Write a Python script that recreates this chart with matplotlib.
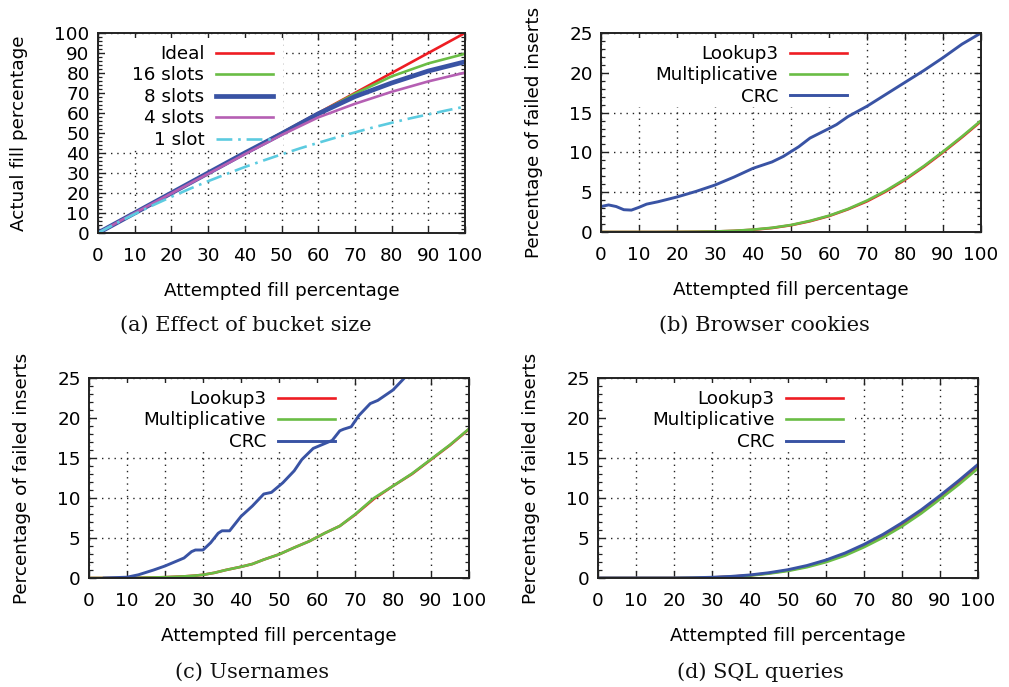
import matplotlib
matplotlib.use("Agg")
import matplotlib.pyplot as plt
from matplotlib.patches import Rectangle

plt.rcParams["font.family"] = ["DejaVu Sans"]

RED = "#ee1d23"
GREEN = "#6abd45"
BLUE = "#3953a4"
MAGENTA = "#b55fb3"
CYAN = "#5ccbe0"

# (a) Effect of bucket size
a_x = [0, 10, 20, 30, 40, 50, 60, 70, 80, 90, 100]
a_ideal = [0, 10, 20, 30, 40, 50, 60, 70, 80, 90, 100]
a_16 = [0, 10, 20, 30, 40, 50, 59.8, 69.6, 78.3, 84.8, 89.6]
a_8 = [0, 10, 20, 30, 40, 49.6, 59.6, 68.2, 75.0, 81.0, 85.6]
a_4 = [0, 10, 19.8, 29.6, 39.4, 49.0, 57.8, 64.6, 70.6, 75.8, 80.2]
a_1x = [0, 5, 10, 15, 20, 25, 30, 35, 40, 45, 50, 55, 60, 65, 70, 75, 80, 85, 90, 95, 100]
a_1 = [0, 4.9, 9.5, 13.9, 18.1, 22.1, 25.9, 29.5, 33.0, 36.2, 39.3, 42.3, 45.1, 47.8,
       50.3, 52.8, 55.1, 57.3, 59.3, 61.3, 63.2]

# (b) Browser cookies
b_x = [0, 5, 10, 15, 20, 25, 30, 35, 40, 45, 50, 55, 60, 65, 70, 75, 80, 85, 90, 95, 100]
b_lookup3 = [0, 0, 0, 0, 0.01, 0.03, 0.06, 0.14, 0.28, 0.5, 0.85, 1.35, 2.0, 2.85, 3.85,
             5.1, 6.55, 8.2, 10.0, 11.9, 13.9]
b_mult = [0, 0, 0, 0, 0.01, 0.03, 0.07, 0.15, 0.3, 0.53, 0.88, 1.4, 2.05, 2.9, 3.95,
          5.2, 6.65, 8.3, 10.1, 12.0, 14.0]
b_crc_x = [0, 2, 4, 6, 8, 10, 12, 15, 20, 25, 30, 35, 40, 45, 48, 50, 52, 55, 60, 62, 65,
           70, 75, 80, 85, 90, 95, 100]
b_crc = [3.2, 3.4, 3.2, 2.8, 2.75, 3.1, 3.5, 3.8, 4.4, 5.1, 5.9, 6.9, 8.0, 8.8, 9.5, 10.1,
         10.7, 11.8, 13.0, 13.5, 14.5, 15.8, 17.3, 18.8, 20.3, 21.9, 23.6, 25.0]

# (c) Usernames
c_x = [0, 5, 10, 15, 20, 25, 28, 30, 33, 36, 40, 43, 46, 50, 54, 58, 62, 66, 70, 75, 80,
       85, 90, 95, 100]
c_lookup3 = [0, 0, 0, 0.05, 0.1, 0.2, 0.3, 0.4, 0.65, 1.0, 1.4, 1.75, 2.3, 2.95, 3.8, 4.6,
             5.6, 6.5, 7.9, 9.9, 11.5, 13.0, 14.8, 16.6, 18.6]
c_mult = [0, 0, 0, 0.05, 0.1, 0.2, 0.3, 0.4, 0.65, 1.0, 1.4, 1.75, 2.3, 2.95, 3.8, 4.6,
          5.6, 6.5, 7.95, 10.0, 11.5, 13.05, 14.85, 16.65, 18.65]
c_crc_x = [4, 10, 13, 17, 20, 23, 25, 27, 28, 30, 32, 34, 35, 37, 40, 43, 46, 48, 51, 54,
           56, 59, 62, 64, 66, 67, 69, 71, 74, 76, 80, 83]
c_crc = [0, 0.1, 0.4, 1.0, 1.5, 2.1, 2.5, 3.3, 3.5, 3.5, 4.4, 5.6, 5.9, 5.9, 7.7, 9.0, 10.5,
         10.7, 11.9, 13.4, 14.8, 16.2, 16.8, 17.2, 18.4, 18.6, 18.9, 20.3, 21.8, 22.2, 23.5,
         25.0]

# (d) SQL queries
d_x = [0, 10, 20, 25, 30, 35, 40, 45, 50, 55, 60, 65, 70, 75, 80, 85, 90, 95, 100]
d_lookup3 = [0, 0, 0, 0.02, 0.07, 0.17, 0.33, 0.6, 0.95, 1.45, 2.1, 2.95, 4.0, 5.2, 6.6,
             8.2, 10.0, 11.9, 13.9]
d_mult = [0, 0, 0, 0.02, 0.06, 0.15, 0.3, 0.55, 0.88, 1.35, 1.98, 2.8, 3.85, 5.05, 6.45,
          8.05, 9.85, 11.7, 13.7]
d_crc = [0, 0, 0, 0.03, 0.09, 0.2, 0.38, 0.66, 1.04, 1.56, 2.25, 3.12, 4.2, 5.45, 6.9,
         8.5, 10.3, 12.2, 14.2]

captions = ["(a) Effect of bucket size", "(b) Browser cookies", "(c) Usernames",
            "(d) SQL queries"]

W, H = 1009, 687
FS = 13.2


def px_axes(left, top, right, bottom):
    return fig.add_axes([left / W, 1 - bottom / H, (right - left) / W, (bottom - top) / H])


def style(ax, ymax, ystep, yminor, ylabel):
    ax.set_xlim(0, 100)
    ax.set_ylim(0, ymax)
    ax.set_xticks(range(0, 101, 10))
    ax.set_yticks(range(0, ymax + 1, ystep))
    ax.set_yticks([v for v in range(0, ymax + 1, yminor) if v % ystep], minor=True)
    ax.set_axisbelow(True)
    ax.grid(True, which="major", linestyle=(0, (1, 3.5)), color="#222222", linewidth=1.0)
    ax.tick_params(which="both", direction="in", top=True, right=True, labelsize=FS,
                   color="#222222")
    ax.tick_params(which="major", length=5, width=1.0)
    ax.tick_params(which="minor", length=3, width=0.9)
    ax.tick_params(axis="x", pad=10)
    ax.tick_params(axis="y", pad=6)
    for sp in ax.spines.values():
        sp.set_linewidth(1.4)
        sp.set_color("#222222")
    ax.set_xlabel("Attempted fill percentage", fontsize=FS, labelpad=12)
    ax.set_ylabel(ylabel, fontsize=FS, labelpad=19)


def key(ax, anchor_x, anchor_y, box_right):
    # gnuplot-style key: right-aligned labels, opaque box reaching the left axis
    leg = ax.legend(loc="upper right", bbox_to_anchor=(anchor_x, anchor_y),
                    frameon=False, markerfirst=False, fontsize=FS, handlelength=3.1,
                    handletextpad=0.65, labelspacing=0.19, borderpad=0, borderaxespad=0)
    leg.set_zorder(3)
    fig.canvas.draw()
    bb = leg.get_window_extent().transformed(ax.transAxes.inverted())
    ax.add_patch(Rectangle((0.02, bb.y0 - 0.005), box_right - 0.02, 0.975 - bb.y0 + 0.005,
                           transform=ax.transAxes, facecolor="white", edgecolor="none",
                           zorder=1.2))


fig = plt.figure(figsize=(W / 100, H / 100), dpi=100)

lw = 1.9

ax = px_axes(98, 33, 465, 233)
style(ax, 100, 10, 2, "Actual fill percentage")
ax.plot(a_x, a_ideal, color=RED, lw=lw, label="Ideal")
ax.plot(a_x, a_16, color=GREEN, lw=lw, label="16 slots")
ax.plot(a_x, a_8, color=BLUE, lw=3.4, label="8 slots")
ax.plot(a_x, a_4, color=MAGENTA, lw=lw, label="4 slots")
ax.plot(a_1x, a_1, color=CYAN, lw=lw, linestyle=(0, (6, 2.2, 1, 2.2)), label="1 slot")
key(ax, 0.477, 0.94, 0.505)

panels = [
    ((601, 33, 981, 232), b_x, b_lookup3, b_x, b_mult, b_crc_x, b_crc, 0.647, 0.94, 0.685),
    ((89, 378, 469, 578), c_x, c_lookup3, c_x, c_mult, c_crc_x, c_crc, 0.647, 0.94, 0.66),
    ((598, 378, 978, 578), d_x, d_lookup3, d_x, d_mult, d_x, d_crc, 0.645, 0.94, 0.675),
]
for box, lx, ly, mx, my, cx, cy, kx, ky, kr in panels:
    ax = px_axes(*box)
    style(ax, 25, 5, 1, "Percentage of failed inserts")
    ax.plot(lx, ly, color=RED, lw=lw, label="Lookup3")
    ax.plot(mx, my, color=GREEN, lw=lw, label="Multiplicative")
    ax.plot(cx, cy, color=BLUE, lw=2.1, label="CRC")
    key(ax, kx, ky, kr)

cap_pos = [(246, 325), (764, 325), (252, 672), (760, 672)]
for text, (cx, cy) in zip(captions, cap_pos):
    fig.text(cx / W, 1 - cy / H, text, ha="center", va="center", fontsize=15,
             family="DejaVu Serif", color="#111111")

fig.savefig("out.png", dpi=100)
